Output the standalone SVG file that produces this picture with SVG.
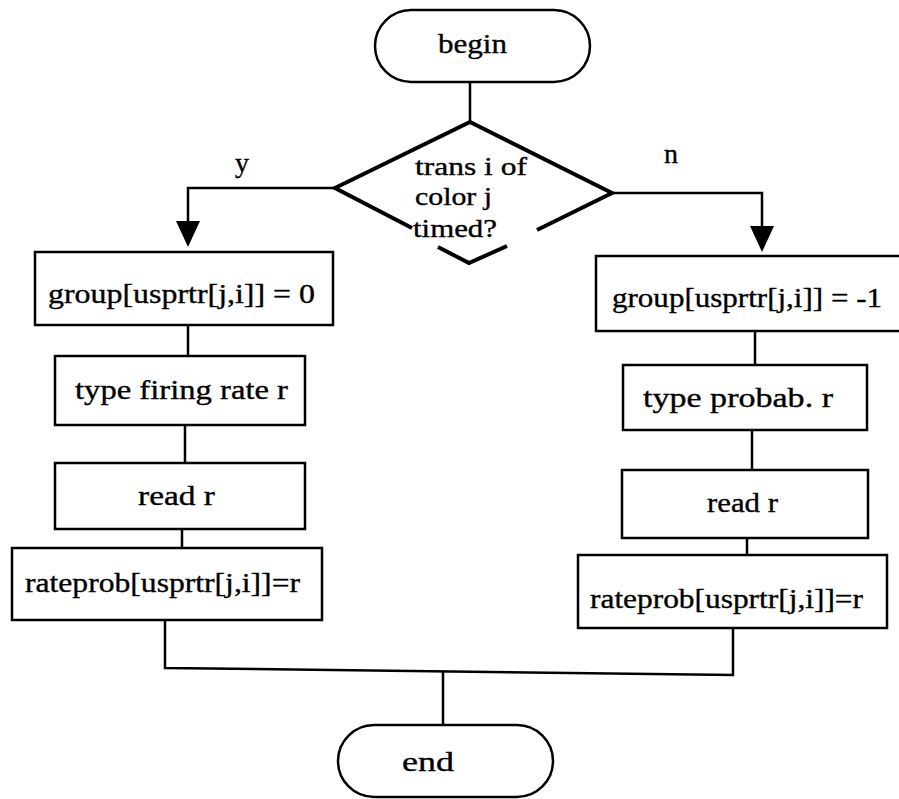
<svg xmlns="http://www.w3.org/2000/svg" width="899" height="799" viewBox="0 0 899 799">
  <style>
    .box { fill: #fff; stroke: #000; stroke-width: 2.5; }
    .edge { fill: none; stroke: #000; stroke-width: 2.5; }
    .dia { fill: none; stroke: #000; stroke-width: 4; stroke-linejoin: miter; }
    .head { fill: #000; }
    text { font-family: "Liberation Serif", "Times New Roman", serif; font-size: 28px; fill: #000; stroke: #000; stroke-width: 0.35; }
    .dt { font-size: 25px; }
  </style>
  <rect width="899" height="799" fill="#fff"/>

  <g id="connectors">
    <line class="edge" x1="470" y1="82" x2="470" y2="122"/>
    <polyline class="edge" points="335,188 188,188 188,222"/>
    <path class="head" d="M176,221 L200,221 L188,247 Z"/>
    <polyline class="edge" points="612,193 762,193 762,227"/>
    <path class="head" d="M750,226 L774,226 L762,252 Z"/>
    <line class="edge" x1="188" y1="325" x2="188" y2="356"/>
    <line class="edge" x1="185" y1="425" x2="185" y2="463"/>
    <line class="edge" x1="182" y1="529" x2="182" y2="548"/>
    <line class="edge" x1="755" y1="331" x2="755" y2="365"/>
    <line class="edge" x1="752" y1="430" x2="752" y2="470"/>
    <line class="edge" x1="747" y1="538" x2="747" y2="555"/>
    <polyline class="edge" points="165,620 165,668 733,675 733,628"/>
    <line class="edge" x1="443" y1="671" x2="443" y2="725"/>
  </g>

  <g id="begin">
    <rect class="box" x="375" y="10" width="215" height="72" rx="36" ry="36"/>
    <text x="438" y="53" textLength="69" lengthAdjust="spacingAndGlyphs">begin</text>
  </g>

  <g id="decision">
    <polyline class="dia" points="412,228 335,188 470,122 612,193 537,230"/>
    <polyline class="dia" points="438,247 469,263 507,246"/>
    <text class="dt" x="415" y="175" textLength="112" lengthAdjust="spacingAndGlyphs">trans i of</text>
    <text class="dt" x="415" y="205" textLength="77" lengthAdjust="spacingAndGlyphs">color j</text>
    <text class="dt" x="413" y="237" textLength="84" lengthAdjust="spacingAndGlyphs">timed?</text>
  </g>

  <g id="label-y"><text x="235" y="172">y</text></g>
  <g id="label-n"><text x="664" y="163">n</text></g>

  <g id="timed-group">
    <rect class="box" x="35" y="252" width="298" height="73"/>
    <text x="48" y="303" textLength="267" lengthAdjust="spacingAndGlyphs">group[usprtr[j,i]] = 0</text>
  </g>
  <g id="timed-type">
    <rect class="box" x="55" y="356" width="250" height="69"/>
    <text x="75" y="399" textLength="213" lengthAdjust="spacingAndGlyphs">type firing rate r</text>
  </g>
  <g id="timed-read">
    <rect class="box" x="55" y="463" width="250" height="66"/>
    <text x="138" y="505" textLength="77" lengthAdjust="spacingAndGlyphs">read r</text>
  </g>
  <g id="timed-store">
    <rect class="box" x="12" y="548" width="310" height="72"/>
    <text x="25" y="592" textLength="275" lengthAdjust="spacingAndGlyphs">rateprob[usprtr[j,i]]=r</text>
  </g>

  <g id="untimed-group">
    <rect class="box" x="596" y="256" width="344" height="75"/>
    <text x="612" y="307" textLength="270" lengthAdjust="spacingAndGlyphs">group[usprtr[j,i]] = -1</text>
  </g>
  <g id="untimed-type">
    <rect class="box" x="623" y="365" width="244" height="65"/>
    <text x="643" y="407" textLength="190" lengthAdjust="spacingAndGlyphs">type probab. r</text>
  </g>
  <g id="untimed-read">
    <rect class="box" x="622" y="470" width="246" height="68"/>
    <text x="707" y="512" textLength="71" lengthAdjust="spacingAndGlyphs">read r</text>
  </g>
  <g id="untimed-store">
    <rect class="box" x="578" y="555" width="309" height="73"/>
    <text x="590" y="608" textLength="273" lengthAdjust="spacingAndGlyphs">rateprob[usprtr[j,i]]=r</text>
  </g>

  <g id="end">
    <rect class="box" x="338" y="725" width="215" height="72" rx="36" ry="36"/>
    <text x="402" y="771" textLength="52" lengthAdjust="spacingAndGlyphs">end</text>
  </g>
</svg>
